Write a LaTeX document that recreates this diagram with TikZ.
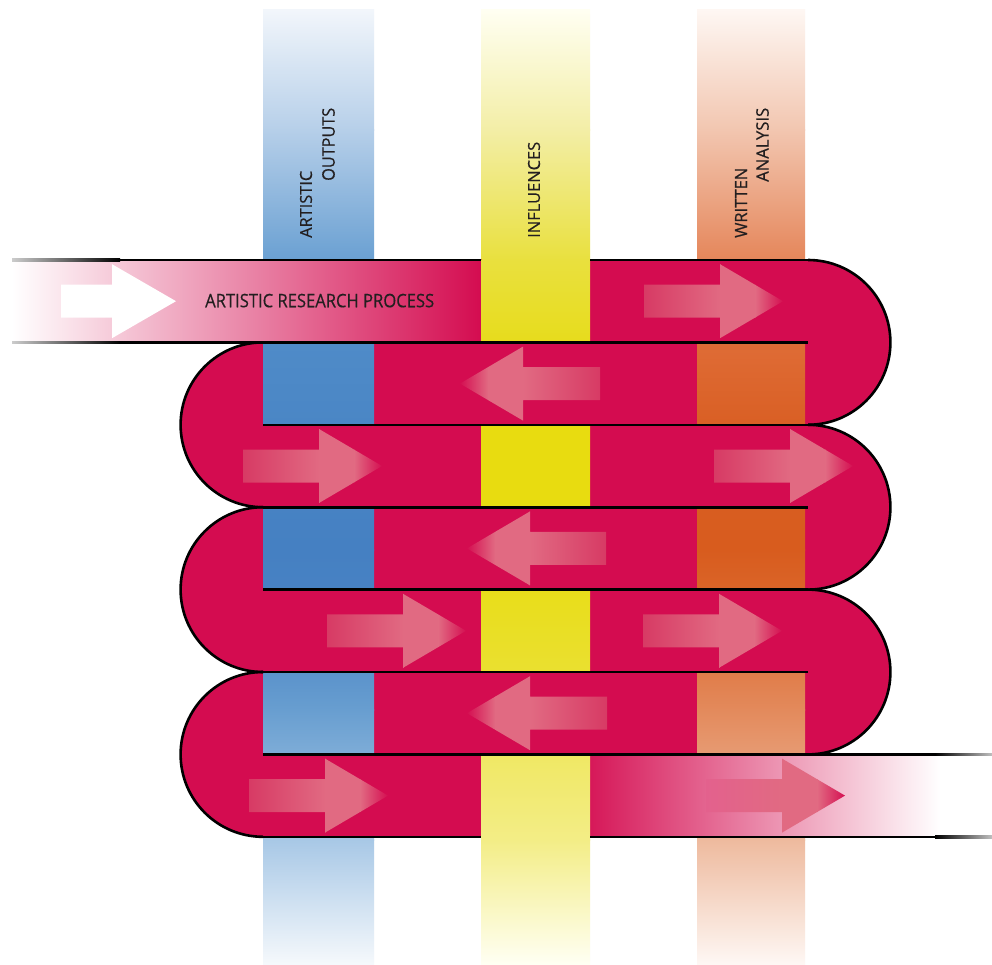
\documentclass[tikz,border=0pt]{standalone}
\usepackage{fontspec}
\usepackage{graphicx}
\newfontfamily\osans{Open Sans}[FakeBold=0.5]
\definecolor{crim}{HTML}{D40C50}
\definecolor{txt}{HTML}{231F20}
\definecolor{arl}{HTML}{E16A82}
\definecolor{art}{HTML}{D73A64}
% blue stops
\definecolor{B0}{HTML}{F2F6FB}\definecolor{B1}{HTML}{B6CFE9}\definecolor{B2}{HTML}{6AA0D2}
\definecolor{B3}{HTML}{4F8BC8}\definecolor{B4}{HTML}{4A86C5}\definecolor{B5}{HTML}{4580C2}
\definecolor{B6}{HTML}{4983C4}\definecolor{B7}{HTML}{689ED0}\definecolor{B8}{HTML}{A8C8E6}
\definecolor{B9}{HTML}{F6F9FC}
% yellow stops
\definecolor{Y0}{HTML}{FFFFF2}\definecolor{Y1}{HTML}{F3EEA6}\definecolor{Y2}{HTML}{E9E03E}
\definecolor{Y3}{HTML}{E7DC1C}\definecolor{Y4}{HTML}{E8DC10}\definecolor{Y5}{HTML}{E8DC10}
\definecolor{Y6}{HTML}{EAE030}\definecolor{Y7}{HTML}{F0E864}\definecolor{Y8}{HTML}{F3ED86}
\definecolor{Y9}{HTML}{FFFFF4}
% orange stops
\definecolor{O0}{HTML}{FEF7F3}\definecolor{O1}{HTML}{F2C6B0}\definecolor{O2}{HTML}{E5865A}
\definecolor{O3}{HTML}{DF6C36}\definecolor{O4}{HTML}{D95F24}\definecolor{O5}{HTML}{D85C1E}
\definecolor{O6}{HTML}{DC6A30}\definecolor{O7}{HTML}{E38A5C}\definecolor{O8}{HTML}{EEBA9E}
\definecolor{O9}{HTML}{FEF8F5}
\def\bluestops{10/B0/130/B1,130/B1/260/B2,260/B2/343/B3,343/B3/425/B4,425/B4/550/B5,550/B5/620/B6,620/B6/710/B7,710/B7/840/B8,840/B8/965/B9}
\def\yellowstops{10/Y0/130/Y1,130/Y1/260/Y2,260/Y2/343/Y3,343/Y3/425/Y4,425/Y4/550/Y5,550/Y5/672/Y6,672/Y6/754/Y7,754/Y7/840/Y8,840/Y8/965/Y9}
\def\orangestops{10/O0/130/O1,130/O1/260/O2,260/O2/343/O3,343/O3/425/O4,425/O4/550/O5,550/O5/620/O6,620/O6/710/O7,710/O7/840/O8,840/O8/965/O9}
\newcommand\bandsegs[3]{\foreach \ya/\ca/\yb/\cb in #3 {\shade[top color=\ca,bottom color=\cb] (#1,\ya-0.3) rectangle (#2,\yb+0.3);}}
% right-pointing arrow: tail x, tip x, centre y, tail colour
\newcommand\rarr[4]{%
\begin{scope}
\clip (#1,#3-16.5) -- (#2-63,#3-16.5) -- (#2-63,#3-37) -- (#2,#3) -- (#2-63,#3+37) -- (#2-63,#3+16.5) -- (#1,#3+16.5) -- cycle;
\shade[left color=#4, right color=arl] (#1-1,#3-38) rectangle ({#1+0.55*(#2-#1)+0.3},#3+38);
\fill[arl] ({#1+0.55*(#2-#1)},#3-38) rectangle ({#1+0.8*(#2-#1)+0.3},#3+38);
\shade[left color=arl, right color=crim] ({#1+0.8*(#2-#1)},#3-38) rectangle (#2+1,#3+38);
\end{scope}}
% left-pointing arrow: tail x (right), tip x (left), centre y, tail colour
\newcommand\larr[4]{%
\begin{scope}
\clip (#1,#3-16.5) -- (#2+63,#3-16.5) -- (#2+63,#3-37) -- (#2,#3) -- (#2+63,#3+37) -- (#2+63,#3+16.5) -- (#1,#3+16.5) -- cycle;
\shade[left color=crim, right color=arl] (#2-1,#3-38) rectangle ({#2+0.2*(#1-#2)+0.3},#3+38);
\fill[arl] ({#2+0.2*(#1-#2)},#3-38) rectangle ({#2+0.45*(#1-#2)+0.3},#3+38);
\shade[left color=arl, right color=#4] ({#2+0.45*(#1-#2)},#3-38) rectangle (#1+1,#3+38);
\end{scope}}
\tikzset{bl/.style={line width=2.6pt, black},
  lbl/.style={inner sep=0pt, text=txt}}
\begin{document}
\begin{tikzpicture}[x=1pt,y=-1pt]
\useasboundingbox (0,0) rectangle (992,965);
\fill[white] (0,0) rectangle (992,965);
% vertical bands (under)
\bandsegs{263}{374}{\bluestops}
\bandsegs{481}{590}{\yellowstops}
\bandsegs{697}{805}{\orangestops}
% red serpentine
\fill[crim] (481,260) rectangle (808,342.4);
\fill[crim] (263,342.4) rectangle (808,754.4);
\fill[crim] (263,754.4) rectangle (481,836.8);
\shade[left color=white, right color=crim] (12,260) rectangle (481.5,342.4);
\shade[left color=crim!95!white, right color=white] (590,754.4) rectangle (940,836.8);
\begin{scope}
\clip (807.5,0) rectangle (992,965);
\fill[crim] (808,342.4) circle[radius=82.4];
\fill[crim] (808,507.2) circle[radius=82.4];
\fill[crim] (808,672) circle[radius=82.4];
\end{scope}
\begin{scope}
\clip (0,0) rectangle (263.5,965);
\fill[crim] (263,424.8) circle[radius=82.4];
\fill[crim] (263,589.6) circle[radius=82.4];
\fill[crim] (263,754.4) circle[radius=82.4];
\end{scope}
% arrows
\fill[white] (61,284.7) -- (112,284.7) -- (112,264.2) -- (176,301.2) -- (112,338.2) -- (112,317.7) -- (61,317.7) -- cycle;
\rarr{644}{783}{301.2}{art}
\larr{600}{460}{383.6}{art}
\rarr{243}{382}{466}{art}
\rarr{714}{853}{466}{art}
\larr{606}{467}{548.4}{art}
\rarr{327}{466}{630.8}{art}
\rarr{643}{782}{630.8}{art}
\larr{607}{467}{713.2}{art}
\rarr{249}{388}{795.6}{art}
\rarr{706}{845}{795.6}{crim!65!white}
% bands on top
\begin{scope}
\clip (0,260) rectangle (992,342.4) (0,424.8) rectangle (992,507.2) (0,589.6) rectangle (992,672) (0,754.4) rectangle (992,836.8);
\bandsegs{481}{590}{\yellowstops}
\end{scope}
\begin{scope}
\clip (0,342.4) rectangle (992,424.8) (0,507.2) rectangle (992,589.6) (0,672) rectangle (992,754.4);
\bandsegs{263}{374}{\bluestops}
\bandsegs{697}{805}{\orangestops}
\end{scope}
% outlines
\shade[left color=black!20, right color=black] (12,258.7) rectangle (120,261.3);
\draw[bl] (120,260) -- (481,260);
\draw[bl] (590,260) -- (808,260);
\shade[left color=black!20, right color=black] (12,341.1) rectangle (120,343.7);
\draw[bl] (120,342.4) -- (808,342.4);
\draw[bl] (263,424.8) -- (808,424.8);
\draw[bl] (263,507.2) -- (808,507.2);
\draw[bl] (263,589.6) -- (808,589.6);
\draw[bl] (263,672) -- (808,672);
\draw[bl] (263,754.4) -- (935,754.4);
\shade[left color=black, right color=black!25] (935,753.1) rectangle (992,755.7);
\draw[bl] (263,836.8) -- (481,836.8);
\draw[bl] (590,836.8) -- (935,836.8);
\shade[left color=black, right color=black!25] (935,835.5) rectangle (992,838.1);
\begin{scope}
\clip (808,0) rectangle (992,965);
\draw[bl] (808,342.4) circle[radius=82.4];
\draw[bl] (808,507.2) circle[radius=82.4];
\draw[bl] (808,672) circle[radius=82.4];
\end{scope}
\begin{scope}
\clip (0,0) rectangle (263,965);
\draw[bl] (263,424.8) circle[radius=82.4];
\draw[bl] (263,589.6) circle[radius=82.4];
\draw[bl] (263,754.4) circle[radius=82.4];
\end{scope}
% labels
\node[lbl, anchor=west] (arp) at (205,300.6) {\resizebox{229pt}{13.5pt}{\osans ARTISTIC RESEARCH PROCESS}};
\node[lbl, anchor=west, rotate=90] (lart) at (306,238) {\resizebox{67pt}{12pt}{\osans ARTISTIC}};
\node[lbl, anchor=west, rotate=90] (lout) at (328.5,181) {\resizebox{73pt}{12.5pt}{\osans OUTPUTS}};
\node[lbl, anchor=west, rotate=90] (linf) at (534,238) {\resizebox{96pt}{12pt}{\osans INFLUENCES}};
\node[lbl, anchor=west, rotate=90] (lwri) at (741,238) {\resizebox{70pt}{12pt}{\osans WRITTEN}};
\node[lbl, anchor=west, rotate=90] (lana) at (762.5,182) {\resizebox{74pt}{12.5pt}{\osans ANALYSIS}};
\end{tikzpicture}
\end{document}
